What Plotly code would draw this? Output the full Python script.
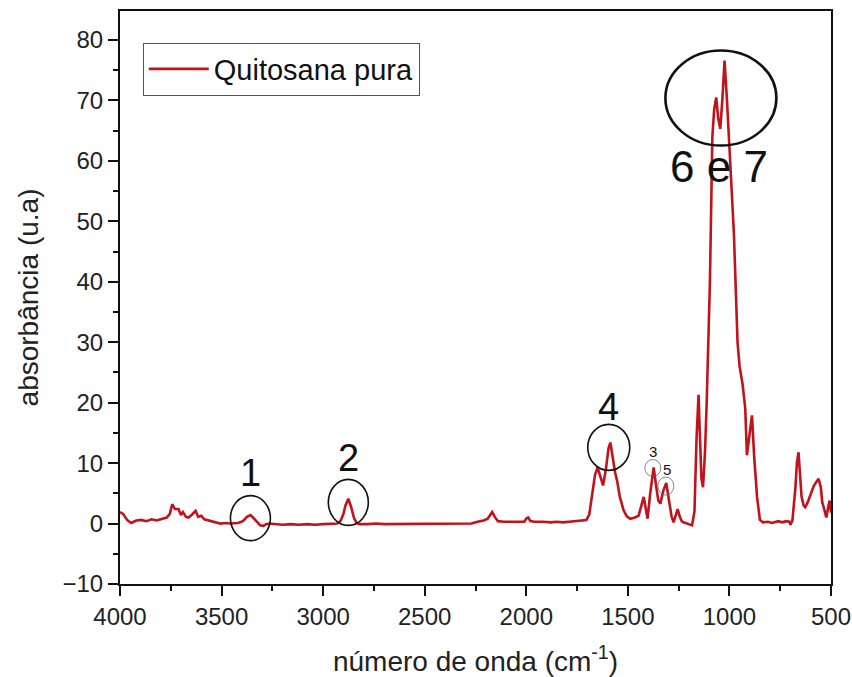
import plotly.graph_objects as go

# ---- data ----
wavenumber = [4000, 3985, 3965, 3945, 3920, 3895, 3870, 3845, 3820, 3795, 3770, 3755, 3743, 3730, 3712,
              3700, 3690, 3675, 3663, 3645, 3628, 3615, 3600, 3585, 3560, 3530, 3506, 3480, 3456, 3420,
              3395, 3375, 3358, 3345, 3325, 3310, 3294, 3280, 3265, 3240, 3200, 3160, 3120, 3080, 3040,
              3000, 2960, 2930, 2915, 2900, 2890, 2876, 2862, 2848, 2835, 2820, 2780, 2740, 2700, 2650,
              2600, 2550, 2500, 2450, 2400, 2350, 2300, 2270, 2240, 2210, 2190, 2178, 2168, 2155, 2140,
              2110, 2078, 2040, 2010, 1998, 1990, 1980, 1960, 1920, 1880, 1850, 1820, 1790, 1760, 1730,
              1704, 1690, 1676, 1662, 1649, 1635, 1622, 1608, 1595, 1586, 1575, 1563, 1553, 1540, 1521,
              1505, 1488, 1465, 1447, 1435, 1422, 1412, 1403, 1390, 1373, 1360, 1350, 1340, 1325, 1311,
              1298, 1285, 1275, 1265, 1255, 1245, 1235, 1226, 1205, 1184, 1172, 1162, 1152, 1145, 1138,
              1130, 1120, 1112, 1104, 1096, 1090, 1084, 1075, 1065, 1055, 1045, 1035, 1024, 1012, 1005,
              990, 978, 968, 960, 950, 935, 922, 914, 900, 889, 878, 864, 850, 835, 810,
              790, 760, 740, 720, 705, 700, 690, 675, 668, 660, 652, 645, 635, 627, 615,
              600, 585, 570, 561, 550, 543, 536, 523, 515, 507, 500]

absorbance = [1.9, 1.6, 0.6, 0.1, 0.5, 0.6, 0.4, 0.7, 0.5, 0.8, 1.0, 1.6, 3.2, 2.4, 2.4,
              1.4, 1.9, 1.1, 1.0, 1.5, 2.1, 1.1, 1.3, 0.7, 0.5, 0.2, 0.0, 0.1, 0.0, 0.1,
              0.4, 1.1, 1.4, 1.0, 0.2, -0.3, -0.4, -0.1, 0.0, -0.1, -0.2, -0.1, -0.2, -0.1, -0.2,
              -0.1, -0.1, 0.0, 0.4, 1.6, 3.0, 4.1, 2.7, 0.9, 0.1, -0.1, -0.1, 0.0, -0.1, -0.1,
              0.0, -0.1, -0.1, -0.1, -0.1, -0.1, -0.1, 0.0, 0.3, 0.5, 0.8, 1.3, 1.9, 1.1, 0.4,
              0.3, 0.3, 0.4, 0.3, 0.9, 1.0, 0.4, 0.3, 0.3, 0.2, 0.3, 0.2, 0.3, 0.4, 0.5,
              0.6, 1.5, 4.5, 8.0, 9.3, 7.5, 6.3, 9.0, 12.5, 13.4, 11.0, 8.5, 7.1, 4.5, 2.2,
              1.2, 0.8, 1.0, 1.3, 2.8, 4.4, 2.5, 0.8, 5.0, 9.3, 6.0, 3.8, 3.3, 5.5, 6.7,
              4.2, 1.2, 0.2, 1.4, 2.4, 1.2, 0.4, 0.2, 0.0, -0.3, 2.0, 14.0, 21.3, 14.5, 7.5,
              6.0, 12.0, 20.0, 29.0, 40.0, 52.0, 64.0, 68.5, 70.5, 67.0, 65.3, 70.0, 76.6, 70.0, 65.0,
              56.0, 48.0, 38.0, 30.0, 26.0, 23.0, 19.0, 11.3, 15.0, 17.9, 11.0, 4.4, 0.6, 0.2, 0.3,
              0.1, 0.4, 0.2, 0.4, 0.3, -0.2, 0.5, 6.0, 10.0, 11.8, 8.0, 4.5, 3.0, 2.7, 3.5,
              5.0, 6.2, 7.0, 7.4, 6.0, 3.5, 2.7, 1.0, 2.5, 3.8, 1.8]

series_name = "Quitosana pura"

# band labels: text, wavenumber/absorbance of circle centre, label position
band_labels = ["1", "2", "3", "4", "5", "6 e 7"]
band_x = [3358, 2876, 1377, 1594, 1313, 1042]
band_y = [0.9, 3.5, 9.2, 12.6, 6.2, 70.4]
label_x = [3358, 2876, 1376, 1594, 1307, 1050]
label_y = [8.3, 10.8, 12.0, 19.3, 9.0, 59.1]

x_ticks = [4000, 3500, 3000, 2500, 2000, 1500, 1000, 500]
y_ticks = [-10, 0, 10, 20, 30, 40, 50, 60, 70, 80]

# ---- styling ----
FONT = "Liberation Sans, Arial, sans-serif"
RED = "#C0131B"

# pixel half-sizes of the circles (style, not data)
circle_rx = [20, 20, 8, 21, 8, 55.5]
circle_ry = [22.5, 23, 8.5, 23, 9, 47.5]
circle_w = [1.6, 1.6, 0.8, 1.6, 0.8, 2.6]
circle_c = ["#111", "#111", "#666", "#111", "#666", "#111"]
label_size = [38, 38, 15, 38, 15, 44]

fig = go.Figure()
fig.add_trace(go.Scatter(x=wavenumber, y=absorbance, mode="lines", name=series_name,
                         line=dict(color=RED, width=2.6)))

shapes = []
annotations = []
for i, lab in enumerate(band_labels):
    shapes.append(dict(type="circle", xref="x", yref="y",
                       xsizemode="pixel", ysizemode="pixel",
                       xanchor=band_x[i], yanchor=band_y[i],
                       x0=-circle_rx[i], x1=circle_rx[i],
                       y0=-circle_ry[i], y1=circle_ry[i],
                       line=dict(color=circle_c[i], width=circle_w[i])))
    annotations.append(dict(x=label_x[i], y=label_y[i], xref="x", yref="y", text=lab,
                            showarrow=False, xanchor="center", yanchor="middle",
                            font=dict(family=FONT, size=label_size[i], color="#111")))

fig.update_layout(
    width=852, height=677,
    margin=dict(l=120, r=21, t=11, b=93),
    paper_bgcolor="white", plot_bgcolor="white",
    font=dict(family=FONT, color="#222"),
    showlegend=True,
    legend=dict(x=0.032, y=0.945, xanchor="left", yanchor="top",
                bordercolor="#555", borderwidth=1, bgcolor="white",
                font=dict(family=FONT, size=29, color="#111"),
                tracegroupgap=0, itemwidth=60),
    shapes=shapes,
    annotations=annotations,
)

fig.update_xaxes(range=[4000, 500], tickvals=x_ticks, ticks="outside", ticklen=10, tickwidth=2,
                 tickcolor="#111", showline=True, linecolor="#111", linewidth=2, mirror=True,
                 showgrid=False, zeroline=False, automargin=False,
                 tickfont=dict(family=FONT, size=24, color="#222"),
                 minor=dict(ticks="outside", ticklen=5, tickwidth=2, tickcolor="#111", dtick=250, showgrid=False),
                 title=dict(text="número de onda (cm<sup>-1</sup>)", standoff=25,
                            font=dict(family=FONT, size=28, color="#222")))
fig.update_yaxes(range=[-10, 84.8], tickvals=y_ticks, ticks="outside", ticklen=10, tickwidth=2,
                 tickcolor="#111", showline=True, linecolor="#111", linewidth=2, mirror=True,
                 showgrid=False, zeroline=False, automargin=False,
                 tickfont=dict(family=FONT, size=24, color="#222"),
                 minor=dict(ticks="outside", ticklen=5, tickwidth=2, tickcolor="#111", dtick=5, showgrid=False),
                 title=dict(text="absorbância (u.a)", standoff=16,
                            font=dict(family=FONT, size=28, color="#222")))

fig.write_html("out.html", config={"displayModeBar": False},
               post_script="document.body.style.margin='0';document.body.style.overflow='hidden';")
